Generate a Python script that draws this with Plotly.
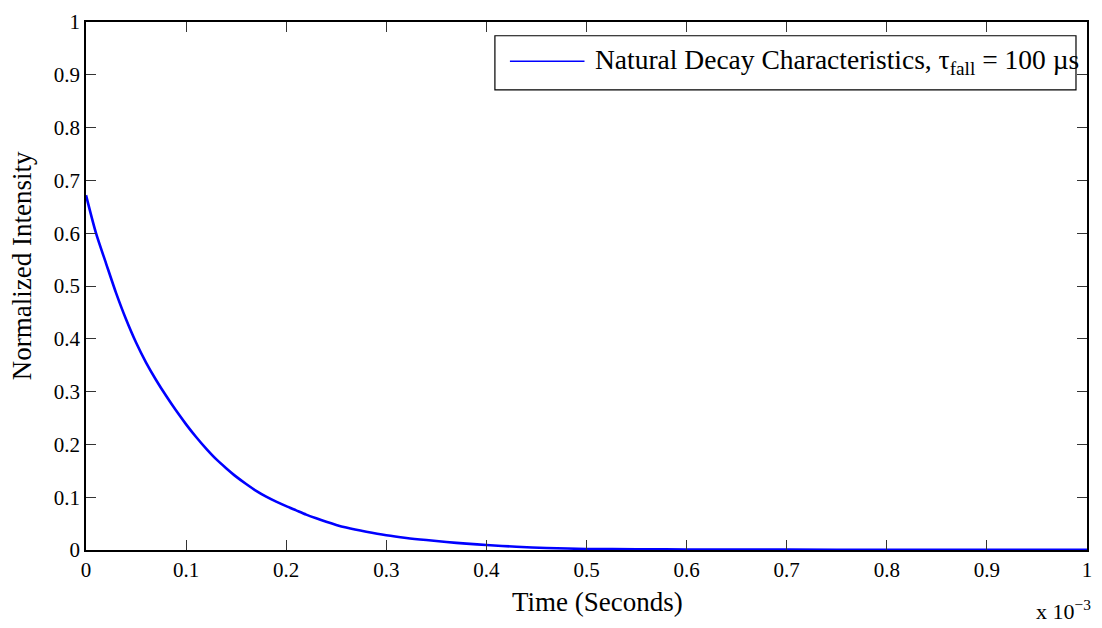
import plotly.graph_objects as go

# Values (time in units of 1e-3 s)
time_ms = [0.00, 0.01, 0.02, 0.03, 0.04, 0.05, 0.06, 0.07, 0.08, 0.09,
           0.10, 0.11, 0.12, 0.13, 0.14, 0.15, 0.16, 0.17, 0.18, 0.19,
           0.20, 0.21, 0.22, 0.23, 0.24, 0.25, 0.26, 0.28, 0.30, 0.32,
           0.34, 0.36, 0.38, 0.40, 0.43, 0.46, 0.50, 0.55, 0.60, 0.70,
           0.80, 0.90, 1.00]
intensity = [0.672, 0.600, 0.543, 0.487, 0.437, 0.393, 0.355, 0.322, 0.292, 0.264,
             0.238, 0.214, 0.192, 0.172, 0.155, 0.139, 0.125, 0.112, 0.101, 0.0915,
             0.083, 0.0750, 0.067, 0.060, 0.0535, 0.0475, 0.0425, 0.0345, 0.0278, 0.0228,
             0.0188, 0.0152, 0.0120, 0.0095, 0.0062, 0.0038, 0.002, 0.0015, 0.001, 0.0007,
             0.0005, 0.0004, 0.0003]

x_ticks = [0, 0.1, 0.2, 0.3, 0.4, 0.5, 0.6, 0.7, 0.8, 0.9, 1]
x_tick_labels = ["0", "0.1", "0.2", "0.3", "0.4", "0.5", "0.6", "0.7", "0.8", "0.9", "1"]
y_ticks = [0, 0.1, 0.2, 0.3, 0.4, 0.5, 0.6, 0.7, 0.8, 0.9, 1]
y_tick_labels = ["0", "0.1", "0.2", "0.3", "0.4", "0.5", "0.6", "0.7", "0.8", "0.9", "1"]

series_name = "Natural Decay Characteristics, τ<sub>fall</sub> = 100 µs"
x_title = "Time (Seconds)"
y_title = "Normalized Intensity"
x_exponent = "x 10<sup>−3</sup>"

FONT = "Liberation Serif"
LINE_COLOR = "#0000ff"

fig = go.Figure()
fig.add_trace(go.Scatter(
    x=time_ms, y=intensity, mode="lines", name=series_name, showlegend=False,
    line=dict(color=LINE_COLOR, width=2.6, shape="spline", smoothing=0.8),
))

axis_common = dict(
    showgrid=False, zeroline=False, showline=True, linecolor="black", linewidth=1.8,
    mirror="allticks", ticks="inside", ticklen=10, tickwidth=1, tickcolor="#333333",
    tickfont=dict(family=FONT, size=21, color="black"),
)

fig.update_xaxes(range=[0, 1], tickvals=x_ticks, ticktext=x_tick_labels, **axis_common)
fig.update_yaxes(range=[0, 1], tickvals=y_ticks, ticktext=y_tick_labels, **axis_common)

# legend box drawn in paper coordinates
leg_x0, leg_x1, leg_y0, leg_y1 = 0.4085, 0.989, 0.8715, 0.974
leg_line_x0, leg_line_x1, leg_line_y = 0.4235, 0.498, 0.9255

fig.update_layout(
    width=1102, height=628,
    margin=dict(l=86, r=10, t=13, b=78),
    paper_bgcolor="white", plot_bgcolor="white",
    showlegend=False,
    shapes=[
        dict(type="rect", xref="paper", yref="paper", x0=leg_x0, x1=leg_x1, y0=leg_y0, y1=leg_y1,
             line=dict(color="black", width=1.2), fillcolor="white", layer="above"),
        dict(type="line", xref="paper", yref="paper", x0=leg_line_x0, x1=leg_line_x1,
             y0=leg_line_y, y1=leg_line_y, line=dict(color=LINE_COLOR, width=1.5), layer="above"),
    ],
    annotations=[
        dict(text=series_name, xref="paper", yref="paper", x=0.506, y=leg_line_y,
             xanchor="left", yanchor="middle", showarrow=False,
             font=dict(family=FONT, size=27.5, color="black")),
        dict(text=x_title, xref="paper", yref="paper", x=0.511, y=-0.099,
             xanchor="center", yanchor="middle", showarrow=False,
             font=dict(family=FONT, size=27, color="black")),
        dict(text=y_title, xref="paper", yref="paper", x=-0.0636, y=0.538,
             xanchor="center", yanchor="middle", textangle=-90, showarrow=False,
             font=dict(family=FONT, size=27, color="black")),
        dict(text=x_exponent, xref="paper", yref="paper", x=1.006, y=-0.1434,
             xanchor="right", yanchor="bottom", showarrow=False,
             font=dict(family=FONT, size=22, color="black")),
    ],
)

fig.write_html("out.html")
